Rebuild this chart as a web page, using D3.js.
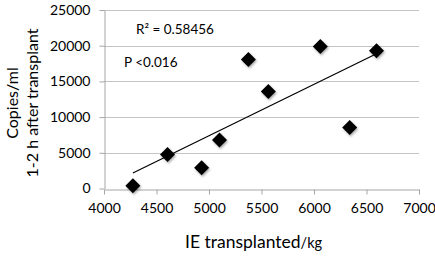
<!DOCTYPE html>
<html>
<head lang="en">
  <meta charset="UTF-8">
  <title>IE transplanted vs copies/ml</title>
</head>
<style>
  body { margin: 0; background: #fff; }
  #chart text { font-family: Lato, "Open Sans", sans-serif; fill: #000; }
  #chart .grid line { stroke: #c4c4c4; stroke-width: 1; }
  #chart .axis path, #chart .axis line { stroke: #a6a6a6; }
</style>
<body>

<svg id="chart"></svg>

<script src="https://cdn.jsdelivr.net/npm/d3@7"></script>
<script>
  // Data
  var ieTransplanted = [4275, 4605, 4930, 5100, 5375, 5565, 6060, 6340, 6595];
  var copiesPerMl = [400, 4750, 2900, 6800, 18050, 13600, 19900, 8550, 19300];
  var xTicks = [4000, 4500, 5000, 5500, 6000, 6500, 7000];
  var yTicks = [0, 5000, 10000, 15000, 20000, 25000];
  var rSquaredLabel = 'R² = 0.58456';
  var pLabel = 'P <0.016';

  var width = 435, height = 256;
  var plotLeft = 104, plotRight = 419, plotTop = 10, plotBottom = 188.5;

  var chart = d3.select('#chart')
    .attr('width', width)
    .attr('height', height);

  var x = d3.scaleLinear().domain([4000, 7000]).range([plotLeft, plotRight]);
  var y = d3.scaleLinear().domain([0, 25000]).range([plotBottom, plotTop]);

  // soft shadow under the markers
  var defs = chart.append('defs');
  var f = defs.append('filter').attr('id', 'shadow')
    .attr('x', '-50%').attr('y', '-50%').attr('width', '200%').attr('height', '200%');
  f.append('feDropShadow')
    .attr('dx', 1).attr('dy', 1.5).attr('stdDeviation', 1.2)
    .attr('flood-color', '#000').attr('flood-opacity', 0.35);

  // horizontal gridlines
  chart.append('g')
    .attr('class', 'grid')
    .selectAll('line')
    .data(yTicks.slice(1))
    .enter()
      .append('line')
      .attr('x1', plotLeft).attr('x2', plotRight)
      .attr('y1', function(d) { return Math.round(y(d)) + 0.5; })
      .attr('y2', function(d) { return Math.round(y(d)) + 0.5; });

  // axes
  chart.append('g')
    .attr('class', 'axis')
    .attr('transform', 'translate(' + (plotLeft + 0.5) + ',0)')
    .call(d3.axisLeft(y).tickValues(yTicks).tickFormat(d3.format('d'))
      .tickSize(5).tickSizeOuter(0).tickPadding(9));

  chart.append('g')
    .attr('class', 'axis')
    .attr('transform', 'translate(0,' + (Math.round(plotBottom) + 0.5) + ')')
    .call(d3.axisBottom(x).tickValues(xTicks).tickFormat(d3.format('d'))
      .tickSize(5).tickSizeOuter(0).tickPadding(9));

  chart.selectAll('.axis text')
    .style('font-size', '14px')
    .style('fill', '#000');

  // linear trend line (least squares)
  var mx = d3.mean(ieTransplanted), my = d3.mean(copiesPerMl);
  var sxy = d3.sum(ieTransplanted, function(v, i) { return (v - mx) * (copiesPerMl[i] - my); });
  var sxx = d3.sum(ieTransplanted, function(v) { return (v - mx) * (v - mx); });
  var slope = sxy / sxx;
  var intercept = my - slope * mx;
  var xExt = d3.extent(ieTransplanted);

  chart.append('line')
    .attr('x1', x(xExt[0])).attr('y1', y(intercept + slope * xExt[0]))
    .attr('x2', x(xExt[1])).attr('y2', y(intercept + slope * xExt[1]))
    .attr('stroke', '#000')
    .attr('stroke-width', 1.2);

  // diamond markers
  var r = 7.5;
  var diamond = 'M0,' + (-r) + 'L' + r + ',0L0,' + r + 'L' + (-r) + ',0Z';

  chart.append('g')
    .selectAll('path')
    .data(ieTransplanted)
    .enter()
      .append('path')
      .attr('d', diamond)
      .attr('fill', '#000')
      .attr('filter', 'url(#shadow)')
      .attr('transform', function(d, i) {
        return 'translate(' + x(d) + ',' + y(copiesPerMl[i]) + ')';
      });

  // annotations
  chart.append('text')
    .attr('x', 136).attr('y', 34)
    .style('font-size', '13.5px')
    .text(rSquaredLabel);

  chart.append('text')
    .attr('x', 124).attr('y', 67)
    .style('font-size', '13.5px')
    .text(pLabel);

  // axis titles
  var xTitle = chart.append('text')
    .attr('x', 185).attr('y', 248)
    .style('font-size', '17.5px');
  xTitle.append('tspan').text('IE transplanted');
  xTitle.append('tspan').style('font-size', '14.5px').text('/kg');

  var yTitle = chart.append('text')
    .attr('transform', 'translate(0,103) rotate(-90)')
    .attr('text-anchor', 'middle')
    .style('font-size', '16px');
  yTitle.append('tspan').attr('x', 0).attr('y', 18).text('Copies/ml');
  yTitle.append('tspan').attr('x', 0).attr('y', 38).text('1-2 h after transplant');

</script>
</body>
</html>
